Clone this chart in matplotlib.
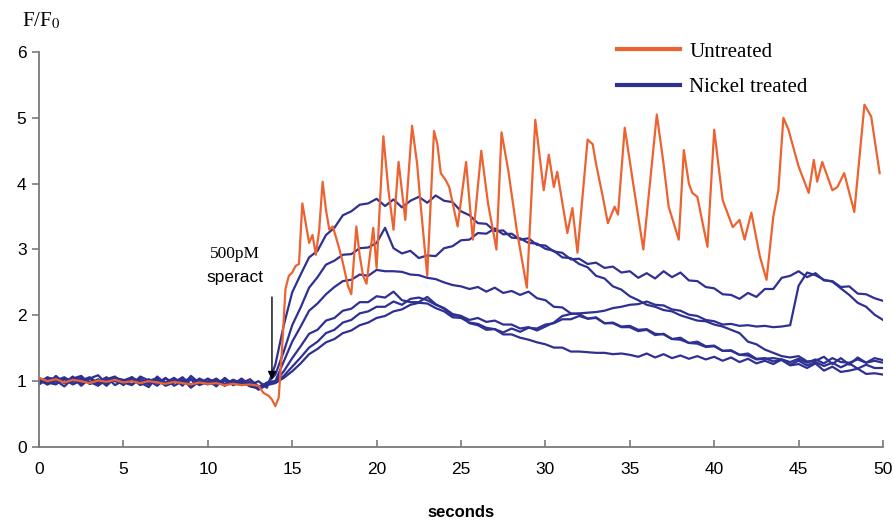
import numpy as np
import matplotlib
matplotlib.use('Agg')
import matplotlib.pyplot as plt

plt.rcParams['font.family'] = 'Liberation Sans'
plt.rcParams['mathtext.fontset'] = 'stix'

# untreated trace (seconds, F/F0)
t_untreated = [0, 0.5, 1, 1.5, 2, 2.5, 3, 3.5, 4, 4.5, 5, 5.5, 6, 6.5, 7, 7.5, 8, 8.5, 9, 9.5,
               10, 10.5, 11, 11.5, 12, 12.5, 13, 13.3, 13.6, 13.8, 14.0, 14.2, 14.4, 14.6, 14.8,
               15.0, 15.2, 15.4, 15.6, 15.8, 16.0, 16.2, 16.4, 16.6, 16.8, 17.0, 17.2, 17.4, 17.6,
               17.8, 18.0, 18.3, 18.5, 18.8, 19.0, 19.2, 19.4, 19.8, 20.0, 20.4, 20.7, 21.0, 21.3,
               21.7, 22.1, 22.4, 22.6, 23.0, 23.4, 23.6, 23.8, 24.1, 24.3, 24.8, 25.3, 25.7, 26.2,
               26.6, 27.1, 27.4, 27.8, 28.3, 28.9, 29.4, 29.9, 30.2, 30.5, 30.7, 31.3, 31.6, 31.9,
               32.5, 32.8, 33.0, 33.4, 33.7, 34.1, 34.3, 34.7, 35.2, 35.8, 36.6, 37.0, 37.3, 37.9,
               38.2, 38.5, 38.7, 39.0, 39.6, 40.0, 40.5, 41.1, 41.5, 41.8, 42.2, 42.7, 43.1, 43.5,
               43.8, 44.1, 44.4, 45.0, 45.6, 45.9, 46.1, 46.4, 47.0, 47.3, 47.7, 48.3, 48.9, 49.3,
               49.8]
f_untreated = [1.05, 1.00, 1.03, 0.98, 1.02, 1.00, 0.97, 1.01, 0.99, 1.02, 0.98, 1.00, 0.97, 1.00,
               0.98, 0.96, 0.99, 0.97, 0.95, 0.98, 0.96, 0.97, 0.94, 0.96, 0.94, 0.95, 0.93, 0.82,
               0.78, 0.72, 0.62, 0.75, 1.50, 2.40, 2.60, 2.65, 2.75, 2.78, 3.70, 3.40, 3.10, 3.22,
               2.92, 3.30, 4.03, 3.60, 3.30, 3.35, 3.18, 3.00, 2.80, 2.45, 2.32, 3.35, 2.90, 2.60,
               2.48, 3.33, 2.72, 4.72, 3.90, 3.30, 4.33, 3.45, 4.88, 4.30, 3.70, 2.60, 4.80, 4.60,
               4.16, 4.05, 3.95, 3.35, 4.33, 3.15, 4.50, 3.70, 3.00, 4.78, 4.20, 3.30, 2.42, 4.97,
               3.90, 4.44, 3.95, 4.18, 3.25, 3.63, 2.95, 4.67, 4.60, 4.30, 3.80, 3.40, 3.65, 3.53,
               4.85, 4.00, 3.00, 5.05, 4.30, 3.65, 3.15, 4.51, 4.00, 3.86, 3.80, 3.04, 4.82, 3.75,
               3.34, 3.45, 3.15, 3.56, 2.90, 2.54, 3.50, 3.90, 5.00, 4.82, 4.26, 3.86, 4.36, 4.03,
               4.33, 3.90, 3.95, 4.16, 3.57, 5.20, 5.02, 4.16]

# nickel treated traces, sampled every 0.5 s from 0 to 50 s
t_nickel = np.linspace(0, 50, 101)
nickel_1 = [1.03, 0.95, 1.08, 0.97, 1.06, 0.93, 1.04, 1.09, 0.96, 1.03,
            0.94, 1.06, 0.98, 0.91, 1.07, 0.96, 1.04, 0.93, 1.08, 0.97,
            1.03, 0.92, 1.05, 0.95, 1.04, 0.94, 1.00, 0.90, 1.25, 1.85,
            2.35, 2.62, 2.88, 2.98, 3.22, 3.33, 3.52, 3.58, 3.68, 3.70,
            3.77, 3.66, 3.76, 3.64, 3.74, 3.80, 3.71, 3.82, 3.74, 3.72,
            3.58, 3.52, 3.40, 3.39, 3.28, 3.29, 3.18, 3.17, 3.10, 3.09,
            3.01, 2.98, 2.88, 2.87, 2.78, 2.73, 2.60, 2.56, 2.44, 2.39,
            2.29, 2.23, 2.16, 2.13, 2.08, 2.06, 2.00, 1.96, 1.92, 1.91,
            1.86, 1.83, 1.78, 1.73, 1.60, 1.56, 1.48, 1.43, 1.38, 1.36,
            1.38, 1.30, 1.31, 1.37, 1.26, 1.35, 1.25, 1.36, 1.28, 1.35,
            1.32]
nickel_2 = [0.97, 1.06, 1.01, 0.92, 1.04, 1.08, 0.96, 1.03, 0.93, 1.05,
            1.02, 0.95, 1.07, 1.01, 0.93, 1.04, 0.98, 1.06, 0.94, 1.03,
            0.96, 1.04, 0.94, 1.02, 0.97, 1.03, 0.92, 0.96, 1.10, 1.45,
            1.85, 2.12, 2.42, 2.58, 2.77, 2.83, 2.92, 2.93, 3.02, 3.03,
            3.10, 3.33, 3.02, 2.94, 2.98, 2.87, 2.91, 2.90, 3.02, 3.05,
            3.14, 3.15, 3.25, 3.24, 3.32, 3.23, 3.24, 3.15, 3.17, 3.07,
            3.06, 2.97, 2.95, 2.85, 2.86, 2.78, 2.80, 2.72, 2.74, 2.65,
            2.67, 2.57, 2.64, 2.56, 2.67, 2.58, 2.65, 2.53, 2.52, 2.43,
            2.41, 2.32, 2.31, 2.25, 2.34, 2.28, 2.40, 2.40, 2.57, 2.60,
            2.67, 2.58, 2.64, 2.53, 2.52, 2.43, 2.44, 2.33, 2.32, 2.26,
            2.22]
nickel_3 = [1.05, 0.98, 0.95, 1.05, 1.00, 1.07, 0.96, 0.99, 1.06, 0.94,
            1.01, 1.06, 0.95, 1.03, 0.97, 1.05, 0.93, 1.00, 1.04, 0.96,
            1.04, 0.97, 1.03, 0.94, 0.99, 0.92, 0.89, 0.98, 1.00, 1.30,
            1.60, 1.83, 2.07, 2.18, 2.32, 2.43, 2.52, 2.54, 2.62, 2.60,
            2.69, 2.67, 2.67, 2.66, 2.62, 2.61, 2.57, 2.55, 2.50, 2.46,
            2.44, 2.40, 2.43, 2.36, 2.42, 2.34, 2.37, 2.31, 2.36, 2.26,
            2.23, 2.13, 2.12, 2.03, 2.02, 1.95, 1.97, 1.88, 1.88, 1.82,
            1.82, 1.76, 1.78, 1.70, 1.72, 1.64, 1.66, 1.58, 1.60, 1.53,
            1.54, 1.46, 1.47, 1.40, 1.42, 1.34, 1.35, 1.30, 1.32, 1.24,
            1.26, 1.20, 1.27, 1.16, 1.22, 1.14, 1.16, 1.19, 1.11, 1.12,
            1.10]
nickel_4 = [1.00, 1.05, 0.96, 1.03, 0.95, 1.01, 1.06, 0.97, 1.04, 1.00,
            0.96, 1.03, 1.00, 0.95, 1.04, 0.98, 1.05, 0.96, 1.02, 0.94,
            0.99, 1.03, 0.95, 1.02, 0.96, 0.99, 0.91, 0.97, 1.00, 1.15,
            1.35, 1.53, 1.72, 1.78, 1.92, 1.96, 2.07, 2.10, 2.20, 2.20,
            2.29, 2.27, 2.36, 2.23, 2.20, 2.20, 2.28, 2.17, 2.10, 2.00,
            1.99, 1.93, 1.96, 1.90, 1.92, 1.86, 1.86, 1.80, 1.82, 1.77,
            1.83, 1.89, 1.99, 2.02, 2.03, 2.04, 2.05, 2.07, 2.11, 2.13,
            2.16, 2.17, 2.21, 2.16, 2.15, 2.09, 2.07, 2.01, 1.99, 1.93,
            1.91, 1.86, 1.87, 1.84, 1.85, 1.83, 1.84, 1.82, 1.83, 1.85,
            2.45, 2.65, 2.61, 2.54, 2.51, 2.41, 2.31, 2.19, 2.13, 2.01,
            1.93]
nickel_5 = [0.95, 1.03, 1.05, 0.97, 1.07, 0.96, 1.04, 0.95, 1.00, 1.05,
            0.98, 0.94, 1.04, 0.96, 1.02, 0.93, 0.98, 1.03, 0.90, 1.00,
            0.95, 1.01, 0.93, 0.99, 0.94, 0.97, 0.87, 0.94, 0.97, 1.05,
            1.15, 1.27, 1.41, 1.49, 1.59, 1.64, 1.73, 1.77, 1.85, 1.89,
            1.96, 1.99, 2.06, 2.09, 2.16, 2.19, 2.18, 2.11, 2.06, 1.97,
            1.96, 1.89, 1.87, 1.81, 1.79, 1.71, 1.71, 1.66, 1.63, 1.59,
            1.56, 1.51, 1.51, 1.45, 1.45, 1.44, 1.43, 1.43, 1.41, 1.42,
            1.40, 1.37, 1.42, 1.36, 1.41, 1.35, 1.39, 1.34, 1.38, 1.33,
            1.37, 1.31, 1.36, 1.29, 1.34, 1.27, 1.31, 1.26, 1.33, 1.25,
            1.31, 1.24, 1.29, 1.23, 1.28, 1.21, 1.27, 1.19, 1.25, 1.20,
            1.20]
nickel_6 = [1.02, 0.95, 1.01, 1.06, 0.96, 1.04, 0.99, 0.93, 1.03, 1.07,
            0.97, 1.04, 0.94, 1.00, 1.05, 0.95, 1.01, 0.99, 0.94, 1.04,
            0.98, 0.94, 1.00, 0.95, 1.02, 0.93, 0.90, 0.96, 0.99, 1.08,
            1.22, 1.36, 1.51, 1.60, 1.73, 1.78, 1.89, 1.93, 2.03, 2.06,
            2.13, 2.13, 2.21, 2.16, 2.25, 2.27, 2.23, 2.16, 2.11, 2.02,
            1.99, 1.88, 1.85, 1.78, 1.79, 1.74, 1.80, 1.75, 1.81, 1.80,
            1.86, 1.88, 1.94, 1.94, 1.99, 1.95, 1.96, 1.88, 1.89, 1.83,
            1.84, 1.78, 1.79, 1.72, 1.71, 1.64, 1.63, 1.58, 1.57, 1.52,
            1.53, 1.46, 1.46, 1.40, 1.39, 1.33, 1.34, 1.35, 1.33, 1.29,
            1.34, 1.28, 1.33, 1.27, 1.35, 1.29, 1.28, 1.33, 1.28, 1.31,
            1.28]

orange = '#EC6331'
blue = '#2E3192'
axis_grey = '#7a7a7a'

fig = plt.figure(figsize=(8.95, 5.2), dpi=100)
ax = fig.add_axes([0.0436, 0.1404, 0.943, 0.7596])

nickel = [nickel_1, nickel_2, nickel_3, nickel_4, nickel_5, nickel_6]
for i, trace in enumerate(nickel):
    ax.plot(t_nickel, trace, color=blue, linewidth=1.6,
            label='Nickel treated' if i == 0 else None, zorder=2)
ax.plot(t_untreated, f_untreated, color=orange, linewidth=1.6, label='Untreated', zorder=3)

ax.set_xlim(0, 50)
ax.set_ylim(0, 6)
ax.set_xticks(range(0, 51, 5))
ax.set_yticks(range(0, 7))

for s in ['top', 'right']:
    ax.spines[s].set_visible(False)
for s in ['left', 'bottom']:
    ax.spines[s].set_color(axis_grey)
    ax.spines[s].set_linewidth(1.3)
ax.tick_params(axis='y', direction='out', length=5, width=1.2, color=axis_grey,
               labelsize=12.5, pad=4)
ax.tick_params(axis='x', direction='in', length=5, width=1.2, color=axis_grey,
               labelsize=12.5, pad=11)

ax.set_xlabel('seconds', fontsize=12, fontweight='bold', labelpad=20)
fig.text(0.025, 0.95, 'F/F$_0$', fontsize=15, family='Liberation Serif')

# stimulus annotation
ax.annotate('', xy=(13.8, 0.98), xytext=(13.8, 2.32),
            arrowprops=dict(arrowstyle='-|>', color='black', lw=1.0, mutation_scale=12))
ax.text(11.6, 2.93, '500pM', ha='center', va='center', fontsize=12.5, family='Liberation Serif')
ax.text(11.6, 2.58, 'speract', ha='center', va='center', fontsize=12.5)

handles, labels = ax.get_legend_handles_labels()
order = [labels.index('Untreated'), labels.index('Nickel treated')]
leg = ax.legend([handles[i] for i in order], [labels[i] for i in order],
                loc='upper left', bbox_to_anchor=(0.678, 0.939), bbox_transform=fig.transFigure,
                frameon=False, prop={'family': 'Liberation Serif', 'size': 15},
                handlelength=3.0, handletextpad=0.45, labelspacing=0.75, borderpad=0)
for line in leg.get_lines():
    line.set_linewidth(3)

plt.savefig('out.png', dpi=100)
